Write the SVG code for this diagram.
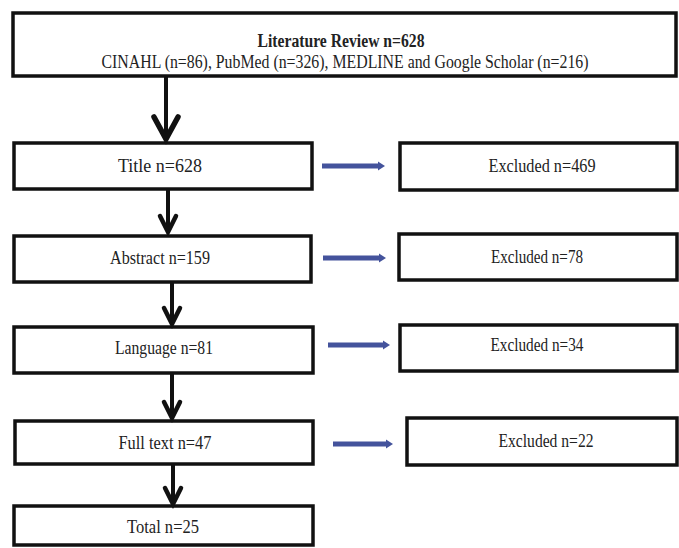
<svg xmlns="http://www.w3.org/2000/svg" width="679" height="548" viewBox="0 0 679 548">
<style>
.box{fill:#fff;stroke:#111;stroke-width:3.5}
.t{font-family:"Liberation Serif","DejaVu Serif",serif;font-size:18.5px;fill:#222;text-anchor:middle}
.b{font-weight:bold}
.stem{stroke:#111;stroke-width:4;fill:none}
.head{stroke:#111;stroke-width:4.5;fill:none;stroke-linejoin:miter;stroke-linecap:round}
.blue{stroke:#44539c;stroke-width:5;fill:none}
.bh{fill:#44539c}
</style>
<rect width="679" height="548" fill="#fff"/>
<g id="review"><rect class="box" x="13" y="13" width="663" height="63"/>
<text class="t b" x="341" y="47" textLength="167" lengthAdjust="spacingAndGlyphs">Literature Review n=628</text>
<text class="t" x="345" y="68" textLength="487" lengthAdjust="spacingAndGlyphs">CINAHL (n=86), PubMed (n=326), MEDLINE and Google Scholar (n=216)</text></g>
<g id="title"><rect class="box" x="14" y="143" width="298" height="46"/><text class="t" x="160" y="172" textLength="84" lengthAdjust="spacingAndGlyphs">Title n=628</text></g>
<g id="ex1"><rect class="box" x="400" y="143" width="277" height="47"/><text class="t" x="542" y="172" textLength="107" lengthAdjust="spacingAndGlyphs">Excluded n=469</text></g>
<g id="abstract"><rect class="box" x="14" y="236" width="297" height="46"/><text class="t" x="160" y="264" textLength="100" lengthAdjust="spacingAndGlyphs">Abstract n=159</text></g>
<g id="ex2"><rect class="box" x="399" y="234" width="278" height="46"/><text class="t" x="537" y="263" textLength="92" lengthAdjust="spacingAndGlyphs">Excluded n=78</text></g>
<g id="language"><rect class="box" x="14" y="327" width="299" height="46"/><text class="t" x="164" y="354" textLength="98" lengthAdjust="spacingAndGlyphs">Language n=81</text></g>
<g id="ex3"><rect class="box" x="400" y="325" width="277" height="46"/><text class="t" x="537" y="351" textLength="93" lengthAdjust="spacingAndGlyphs">Excluded n=34</text></g>
<g id="fulltext"><rect class="box" x="15" y="421" width="298" height="43"/><text class="t" x="165" y="449" textLength="93" lengthAdjust="spacingAndGlyphs">Full text n=47</text></g>
<g id="ex4"><rect class="box" x="407" y="418" width="270" height="47"/><text class="t" x="546" y="447" textLength="95" lengthAdjust="spacingAndGlyphs">Excluded n=22</text></g>
<g id="total"><rect class="box" x="14" y="506" width="299" height="39"/><text class="t" x="163" y="533" textLength="72" lengthAdjust="spacingAndGlyphs">Total n=25</text></g>
<g id="connectors">
<line class="stem" x1="166" y1="77" x2="166" y2="137"/><path class="head" d="M154,117 L166,139 L178,117" style="stroke-width:5.5"/>
<line class="stem" x1="168" y1="190" x2="168" y2="230"/><path class="head" d="M160,216 L168,232 L176,216"/>
<line class="stem" x1="172" y1="283" x2="172" y2="322"/><path class="head" d="M164,308 L172,324 L180,308"/>
<line class="stem" x1="172" y1="374" x2="172" y2="416"/><path class="head" d="M164,402 L172,418 L180,402"/>
<line class="stem" x1="173" y1="465" x2="173" y2="502"/><path class="head" d="M165,488 L173,504 L181,488"/>
<line class="blue" x1="322" y1="166" x2="379" y2="166"/><polygon class="bh" points="378,161.5 385,166 378,170.5"/>
<line class="blue" x1="323" y1="258" x2="380" y2="258"/><polygon class="bh" points="379,253.5 386,258 379,262.5"/>
<line class="blue" x1="328" y1="345" x2="384" y2="345"/><polygon class="bh" points="383,340.5 390,345 383,349.5"/>
<line class="blue" x1="333" y1="444" x2="387" y2="444"/><polygon class="bh" points="386,439.5 393,444 386,448.5"/>
</g>
</svg>
